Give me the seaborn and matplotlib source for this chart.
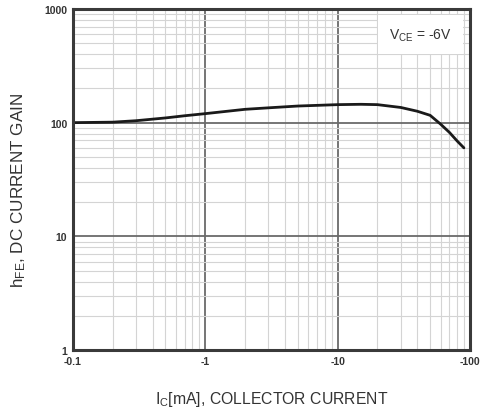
import numpy as np
import pandas as pd
import matplotlib
matplotlib.use("Agg")
import matplotlib.pyplot as plt
import seaborn as sns
from matplotlib.ticker import FixedLocator, NullFormatter

# DC current gain curve (|Ic| in mA)
collector_current = [0.1, 0.2, 0.3, 0.5, 0.7, 1, 2, 3, 5, 10, 15, 20, 30, 40, 50, 60, 70, 80, 90]
current_gain = [100, 101, 104, 110, 115, 120, 131, 135, 140, 144, 145, 144, 136, 126, 116, 97, 82, 69, 60]

x_ticks = [0.1, 1, 10, 100]
x_tick_labels = ["-0.1", "-1", "-10", "-100"]
y_ticks = [1, 10, 100, 1000]
y_tick_labels = ["1", "10", "100", "1000"]

sns.set_style("white")
plt.rcParams["font.family"] = ["Liberation Sans", "DejaVu Sans"]
plt.rcParams["mathtext.default"] = "regular"

df = pd.DataFrame({"ic": collector_current, "hfe": current_gain})

fig = plt.figure(figsize=(4.86, 4.14), dpi=100)
ax = fig.add_axes([0.150, 0.152, 0.817, 0.824])

sns.lineplot(data=df, x="ic", y="hfe", ax=ax, color="#1a1a1a", linewidth=2.0)

ax.set_xscale("log")
ax.set_yscale("log")
ax.set_xlim(0.1, 100)
ax.set_ylim(1, 1000)

# major and minor grid, like the printed log paper
minor = [m * 10.0 ** e for e in range(-1, 3) for m in range(2, 10)]
ax.xaxis.set_minor_locator(FixedLocator([v for v in minor if 0.1 < v < 100]))
ax.yaxis.set_minor_locator(FixedLocator([v * 10 for v in minor if 0.1 < v < 100]))
ax.xaxis.set_minor_formatter(NullFormatter())
ax.yaxis.set_minor_formatter(NullFormatter())
ax.grid(True, which="major", color="#6a6a6a", linewidth=1.3)
ax.grid(True, which="minor", color="#d4d4d4", linewidth=0.8)
ax.set_axisbelow(True)

ax.set_xticks(x_ticks)
ax.set_xticklabels(x_tick_labels, fontsize=7.5, fontweight="bold", color="#333333")
ax.set_yticks(y_ticks)
ax.set_yticklabels(y_tick_labels, fontsize=7.5, fontweight="bold", color="#333333")
ax.tick_params(which="both", length=0, pad=4)

for side in ax.spines.values():
    side.set_visible(True)
    side.set_color("#3a3a3a")
    side.set_linewidth(2.2)

ax.set_xlabel(r"I$_C$[mA], COLLECTOR CURRENT", fontsize=11.3, color="#333333")
ax.set_ylabel(r"h$_{FE}$, DC CURRENT GAIN", fontsize=12.3, color="#333333")
ax.xaxis.set_label_coords(0.5, -0.115)
ax.yaxis.set_label_coords(-0.112, 0.47)

ax.text(0.875, 0.925, r"V$_{CE}$ = -6V", transform=ax.transAxes, fontsize=10,
        color="#333333", ha="center", va="center",
        bbox=dict(boxstyle="square,pad=0.8", facecolor="white", edgecolor="none"))

fig.savefig("out.png", dpi=100)
